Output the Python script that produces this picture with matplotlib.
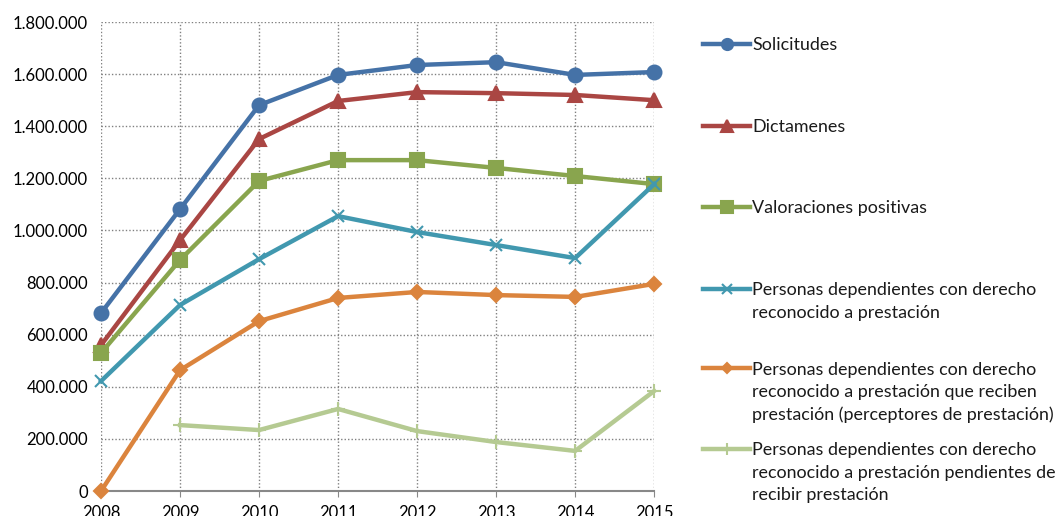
import numpy as np
import matplotlib
matplotlib.use("Agg")
import matplotlib.pyplot as plt
from matplotlib.lines import Line2D
from matplotlib.ticker import FuncFormatter

plt.rcParams['font.family'] = ['Lato', 'DejaVu Sans']

# Data
years = [2008, 2009, 2010, 2011, 2012, 2013, 2014, 2015]
solicitudes = [683000, 1082000, 1481000, 1597000, 1635000, 1646000, 1597000, 1608000]
dictamenes = [560000, 963000, 1351000, 1497000, 1531000, 1527000, 1520000, 1500000]
valoraciones = [530000, 887000, 1190000, 1270000, 1270000, 1240000, 1209000, 1178000]
con_derecho = [422000, 714000, 890000, 1055000, 994000, 944000, 894000, 1178000]
perceptores = [0, 464000, 652000, 741000, 764000, 752000, 745000, 795000]
pendientes = [np.nan, 253000, 234000, 315000, 230000, 188000, 154000, 384000]

labels = [
    "Solicitudes",
    "Dictamenes",
    "Valoraciones positivas",
    "Personas dependientes con derecho\nreconocido a prestación",
    "Personas dependientes con derecho\nreconocido a prestación que reciben\nprestación (perceptores de prestación)",
    "Personas dependientes con derecho\nreconocido a prestación pendientes de\nrecibir prestación",
]
series = [solicitudes, dictamenes, valoraciones, con_derecho, perceptores, pendientes]
colors = ["#4572A7", "#AA4643", "#89A54E", "#4198AF", "#DB843D", "#B5CA92"]
markers = ["o", "^", "s", "x", "D", "+"]
msizes = [10, 10, 10, 9, 7, 10]

fig = plt.figure(figsize=(10.57, 5.16), dpi=100)
ax = fig.add_axes([0.0956, 0.0484, 0.5233, 0.9089])

for vals, col, mk, ms in zip(series, colors, markers, msizes):
    ax.plot(years, vals, color=col, lw=3.2, marker=mk, markersize=ms,
            markeredgecolor=col, markeredgewidth=1.5, clip_on=False, zorder=3)

ax.set_xlim(2008, 2015)
ax.set_ylim(0, 1800000)
ax.set_xticks(years)
ax.set_yticks(np.arange(0, 1800001, 200000))
ax.yaxis.set_major_formatter(FuncFormatter(lambda v, p: f"{int(v):,}".replace(",", ".")))
ax.grid(True, linestyle=(0, (1, 1.5)), color="#808080", linewidth=1)
for s in ["top", "right", "left"]:
    ax.spines[s].set_visible(False)
ax.spines["bottom"].set_color("#888888")
ax.spines["bottom"].set_linewidth(1.5)
ax.tick_params(axis="y", length=0, labelsize=12, pad=9.4)
ax.tick_params(axis="x", length=4, color="#888888", labelsize=12, pad=6)

# legend drawn entry by entry so the handle sits on the first text line
legend_y = [44, 126, 207, 289, 368, 449]
H = 516.0
W = 1057.0
for lab, col, mk, ms, yp in zip(labels, colors, markers, msizes, legend_y):
    yf = 1 - yp / H
    fig.add_artist(Line2D([703 / W, 750 / W], [yf, yf], transform=fig.transFigure,
                          color=col, lw=3.2))
    fig.add_artist(Line2D([726.5 / W], [yf], transform=fig.transFigure,
                          color=col, marker=mk, markersize=ms * 0.8, markeredgecolor=col,
                          markeredgewidth=1.5, lw=0))
    fig.text(752 / W, yf + 6.5 / H, lab, ha="left", va="top", fontsize=12.9,
             linespacing=1.48, color="#1a1a1a")

fig.savefig("out.png", dpi=100)
